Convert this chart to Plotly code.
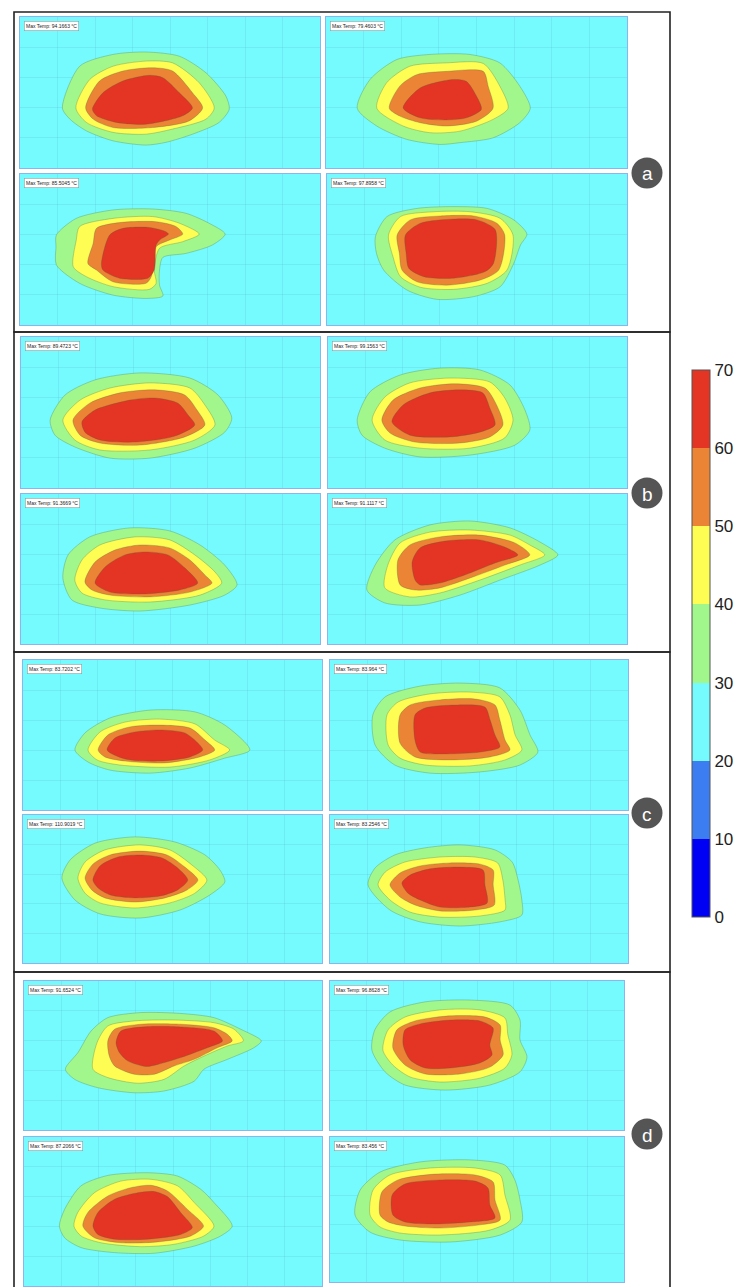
import plotly.graph_objects as go

# ---------------- data ----------------
LEVEL_EDGES = [0, 10, 20, 30, 40, 50, 60, 70]
LEVEL_COLORS = ["#0000f5", "#3c7ef2", "#75fbfd", "#a1f78c", "#fdfd54", "#eb8535", "#e33424"]
BAND_NAMES = ["30–40 °C", "40–50 °C", "50–60 °C", "60–70 °C"]
GROUP_LABELS = ["a", "b", "c", "d"]
MAX_TEMPS = [
    "94.1663", "79.4603", "85.5045", "97.8958",
    "89.4723", "99.1563", "91.3669", "91.1117",
    "83.7202", "83.964", "110.9019", "83.2546",
    "91.6524", "96.8628", "87.2066", "83.456",
]

# isotherm band outlines (grid units: x 0-8, y 0-5), order: 30, 40, 50, 60 °C
A_TL = [
    [(1.13,1.99),(1.59,3.37),(2.48,3.76),(3.36,3.84),(4.25,3.70),(4.96,3.15),(5.49,2.38),(5.58,1.95),(5.31,1.51),(4.60,1.12),(3.89,0.85),(3.36,0.76),(2.48,0.90),(1.77,1.23),(1.33,1.62)],
    [(1.49,1.99),(1.86,2.93),(2.48,3.37),(3.36,3.54),(4.07,3.48),(4.78,2.82),(5.18,1.99),(4.96,1.62),(4.07,1.29),(3.36,1.12),(2.48,1.18),(1.77,1.51)],
    [(1.75,1.99),(2.12,2.88),(2.74,3.21),(3.54,3.32),(4.07,3.21),(4.60,2.49),(4.87,1.99),(4.51,1.56),(3.54,1.34),(2.48,1.34),(1.95,1.62)],
    [(1.93,1.95),(2.21,2.49),(2.74,2.88),(3.45,3.07),(3.81,2.99),(4.25,2.49),(4.60,1.99),(4.34,1.73),(3.36,1.45),(2.57,1.51),(2.04,1.73)],
]
A_TR = [
    [(0.83,1.98),(1.17,2.93),(1.88,3.59),(2.76,3.76),(3.82,3.76),(4.62,3.48),(5.15,2.71),(5.43,1.98),(5.15,1.50),(4.44,1.00),(3.56,0.84),(3.03,0.78),(2.14,0.95),(1.35,1.39)],
    [(1.35,1.98),(1.61,2.82),(2.23,3.37),(3.20,3.48),(4.18,3.46),(4.62,2.71),(4.84,1.98),(4.44,1.61),(3.56,1.22),(2.76,1.17),(2.05,1.39)],
    [(1.68,1.98),(1.96,2.71),(2.41,3.09),(3.20,3.20),(4.18,3.20),(4.31,2.71),(4.44,1.98),(4.00,1.55),(3.20,1.39),(2.50,1.50),(1.96,1.72)],
    [(2.05,1.99),(2.50,2.65),(3.38,2.93),(3.73,2.87),(4.00,2.38),(4.13,1.94),(3.73,1.66),(3.20,1.59),(2.50,1.66)],
]
A_BL = [
    [(0.96,2.59),(0.97,2.98),(1.50,3.53),(2.48,3.81),(3.54,3.84),(4.42,3.70),(5.04,3.37),(5.47,3.01),(5.13,2.65),(4.42,2.37),(3.81,2.24),(3.72,1.82),(3.72,1.32),(3.81,0.96),(3.36,0.88),(2.48,0.99),(1.59,1.38),(0.97,1.99)],
    [(1.42,1.93),(1.50,2.81),(1.59,3.26),(2.48,3.53),(3.54,3.59),(4.25,3.37),(4.78,3.01),(4.34,2.76),(3.72,2.54),(3.58,1.82),(3.63,1.38),(3.45,1.18),(2.48,1.27),(1.77,1.60)],
    [(1.81,2.04),(1.95,2.70),(2.04,3.20),(2.65,3.39),(3.63,3.42),(4.16,3.26),(4.34,3.01),(3.98,2.81),(3.63,2.59),(3.50,1.60),(3.36,1.38),(2.48,1.43),(2.04,1.82)],
    [(2.17,2.04),(2.39,2.98),(2.74,3.20),(3.45,3.23),(3.89,3.09),(3.96,3.01),(3.72,2.81),(3.63,2.65),(3.58,1.82),(3.41,1.55),(2.65,1.55),(2.21,1.82)],
]
A_BR = [
    [(1.29,2.92),(1.60,3.59),(2.40,3.86),(3.38,3.92),(4.27,3.86),(4.98,3.48),(5.33,3.01),(5.16,2.65),(4.98,2.04),(4.62,1.27),(3.91,0.94),(2.93,0.85),(2.13,1.16),(1.51,1.82),(1.32,2.37)],
    [(1.64,2.98),(1.96,3.59),(2.84,3.75),(3.82,3.75),(4.62,3.53),(4.96,2.98),(4.80,1.82),(4.27,1.38),(3.38,1.18),(2.49,1.25),(1.96,1.60),(1.76,2.26)],
    [(1.87,2.98),(2.22,3.48),(3.02,3.61),(3.91,3.61),(4.53,3.37),(4.74,2.98),(4.58,1.82),(4.09,1.49),(3.20,1.32),(2.40,1.43),(2.00,1.82),(1.93,2.37)],
    [(2.09,2.98),(2.49,3.37),(3.38,3.51),(4.00,3.48),(4.49,3.15),(4.44,2.04),(4.22,1.77),(3.38,1.55),(2.58,1.60),(2.18,1.88),(2.11,2.37)],
]
B_TL = [
    [(0.78,2.25),(1.18,3.08),(1.98,3.58),(3.18,3.81),(4.52,3.64),(5.27,3.08),(5.64,2.32),(5.45,1.85),(4.65,1.32),(3.45,0.99),(2.38,0.99),(1.44,1.36),(0.91,1.75)],
    [(1.12,2.25),(1.58,2.91),(2.38,3.31),(3.45,3.48),(4.52,3.31),(4.92,2.75),(5.19,2.09),(4.65,1.59),(3.45,1.26),(2.11,1.26),(1.44,1.59)],
    [(1.39,2.25),(1.84,2.81),(2.65,3.15),(3.58,3.25),(4.38,3.08),(4.71,2.58),(4.92,2.09),(4.38,1.69),(3.18,1.42),(2.11,1.49),(1.58,1.75)],
    [(1.63,2.19),(1.98,2.58),(2.91,2.91),(3.58,2.98),(4.20,2.81),(4.47,2.42),(4.65,2.09),(4.12,1.72),(3.05,1.52),(2.11,1.59),(1.71,1.85)],
]
B_TR = [
    [(0.78,2.25),(1.12,3.18),(1.93,3.74),(2.99,3.97),(4.06,3.91),(4.87,3.41),(5.27,2.58),(5.40,1.92),(5.00,1.42),(3.80,1.09),(2.46,1.03),(1.52,1.32),(0.91,1.75)],
    [(1.18,2.25),(1.52,3.01),(2.19,3.48),(3.26,3.64),(4.33,3.51),(4.73,2.98),(4.95,2.25),(4.73,1.66),(3.80,1.32),(2.46,1.32),(1.52,1.59)],
    [(1.44,2.25),(1.74,2.91),(2.46,3.31),(3.40,3.45),(4.20,3.31),(4.47,2.85),(4.68,2.09),(4.33,1.69),(3.53,1.49),(2.33,1.52),(1.66,1.82)],
    [(1.71,2.19),(2.01,2.75),(2.73,3.15),(3.53,3.25),(4.14,3.15),(4.33,2.65),(4.47,2.09),(4.06,1.85),(3.26,1.69),(2.19,1.75)],
]
B_BL = [
    [(1.12,2.20),(1.26,2.97),(1.84,3.57),(2.91,3.87),(3.98,3.77),(4.79,3.30),(5.45,2.63),(5.78,1.97),(5.45,1.63),(4.52,1.30),(3.18,1.10),(2.11,1.20),(1.36,1.47)],
    [(1.44,2.13),(1.63,2.80),(2.11,3.30),(3.05,3.57),(3.98,3.47),(4.65,2.97),(5.19,2.40),(5.37,2.03),(4.79,1.63),(3.45,1.40),(2.25,1.47),(1.63,1.70)],
    [(1.71,2.07),(1.98,2.73),(2.51,3.13),(3.18,3.30),(3.98,3.20),(4.52,2.80),(4.92,2.30),(5.11,2.03),(4.52,1.73),(3.45,1.57),(2.38,1.63),(1.90,1.80)],
    [(1.98,2.03),(2.25,2.57),(2.78,2.97),(3.32,3.07),(3.93,2.97),(4.39,2.53),(4.73,2.03),(4.25,1.80),(3.32,1.67),(2.38,1.73)],
]
B_BR = [
    [(1.04,1.80),(1.26,2.63),(1.79,3.47),(2.73,3.97),(3.80,4.10),(4.87,3.87),(5.67,3.40),(6.15,2.97),(5.67,2.63),(4.60,2.13),(3.53,1.63),(2.46,1.30),(1.52,1.37)],
    [(1.52,1.87),(1.60,2.63),(1.93,3.37),(2.73,3.73),(3.80,3.80),(4.87,3.63),(5.40,3.30),(5.80,2.97),(5.13,2.63),(4.06,2.13),(2.99,1.70),(2.19,1.57)],
    [(1.93,1.97),(1.87,2.80),(2.19,3.30),(2.99,3.57),(4.06,3.63),(5.00,3.37),(5.40,2.97),(4.73,2.63),(3.80,2.20),(2.99,1.87),(2.33,1.80)],
    [(2.33,2.13),(2.25,2.73),(2.46,3.20),(3.13,3.43),(4.06,3.47),(4.73,3.23),(5.08,2.97),(4.47,2.70),(3.66,2.30),(2.99,2.03),(2.46,1.97)],
]
C_TL = [
    [(1.39,2.00),(1.66,2.57),(2.33,3.07),(3.40,3.33),(4.60,3.27),(5.40,2.83),(6.07,2.00),(5.40,1.73),(4.47,1.40),(3.40,1.23),(2.33,1.33),(1.74,1.60)],
    [(1.74,2.00),(2.06,2.60),(2.73,2.93),(3.66,3.03),(4.60,2.87),(5.13,2.33),(5.53,2.00),(5.00,1.67),(3.93,1.43),(2.59,1.50),(1.98,1.67)],
    [(2.01,2.00),(2.27,2.50),(2.86,2.77),(3.66,2.83),(4.47,2.73),(4.87,2.33),(5.13,2.00),(4.73,1.77),(3.79,1.57),(2.73,1.63),(2.19,1.77)],
    [(2.25,2.00),(2.46,2.40),(2.99,2.60),(3.66,2.67),(4.33,2.57),(4.65,2.27),(4.81,2.00),(4.47,1.77),(3.66,1.63),(2.73,1.70)],
]
C_TR = [
    [(1.21,2.17),(1.15,3.17),(1.48,3.77),(2.42,4.13),(3.49,4.23),(4.56,4.07),(5.10,3.33),(5.37,2.50),(5.58,1.93),(5.10,1.50),(4.03,1.27),(2.68,1.23),(1.74,1.50)],
    [(1.56,2.17),(1.53,3.17),(1.83,3.60),(2.68,3.87),(3.76,3.93),(4.56,3.77),(4.83,3.17),(4.97,2.50),(5.15,2.00),(4.70,1.67),(3.76,1.47),(2.55,1.50),(1.88,1.73)],
    [(1.88,2.23),(1.88,3.17),(2.15,3.50),(2.95,3.67),(3.89,3.70),(4.43,3.50),(4.56,3.00),(4.70,2.33),(4.83,2.00),(4.30,1.77),(3.22,1.67),(2.28,1.77)],
    [(2.28,2.33),(2.28,3.17),(2.55,3.40),(3.36,3.50),(4.16,3.43),(4.30,3.00),(4.43,2.50),(4.56,2.10),(4.03,1.93),(3.09,1.87),(2.42,1.93)],
]
C_BL = [
    [(1.04,2.87),(1.26,3.48),(1.93,4.05),(2.99,4.26),(4.06,4.09),(4.87,3.65),(5.27,3.14),(5.40,2.74),(5.00,2.30),(4.20,1.79),(3.13,1.52),(2.06,1.66),(1.39,2.13)],
    [(1.47,2.87),(1.66,3.41),(2.19,3.82),(3.13,3.99),(3.93,3.82),(4.52,3.31),(4.92,2.80),(4.60,2.36),(3.93,2.03),(2.99,1.86),(2.06,2.03),(1.66,2.36)],
    [(1.66,2.87),(1.87,3.34),(2.33,3.65),(3.13,3.78),(3.85,3.65),(4.33,3.24),(4.68,2.80),(4.39,2.47),(3.80,2.20),(2.99,2.06),(2.19,2.20),(1.84,2.47)],
    [(1.87,2.80),(2.06,3.28),(2.54,3.58),(3.13,3.65),(3.72,3.55),(4.14,3.21),(4.41,2.80),(4.14,2.47),(3.66,2.26),(2.99,2.20),(2.33,2.30),(2.01,2.53)],
]
C_BR = [
    [(1.02,2.64),(1.21,3.21),(1.74,3.65),(2.55,3.89),(3.49,3.99),(4.43,3.82),(4.89,3.41),(5.05,2.80),(5.15,2.13),(5.15,1.62),(4.56,1.39),(3.49,1.25),(2.42,1.39),(1.61,1.79)],
    [(1.29,2.64),(1.48,3.07),(2.01,3.41),(2.95,3.58),(3.89,3.58),(4.50,3.38),(4.64,2.80),(4.70,2.13),(4.70,1.79),(4.03,1.59),(2.95,1.55),(2.15,1.72),(1.61,2.13)],
    [(1.61,2.64),(1.88,3.04),(2.42,3.28),(3.22,3.38),(4.03,3.34),(4.38,3.14),(4.38,2.64),(4.41,1.96),(3.89,1.79),(2.95,1.76),(2.28,1.96),(1.88,2.23)],
    [(1.93,2.70),(2.15,2.97),(2.68,3.18),(3.49,3.24),(4.11,3.14),(4.16,2.64),(4.22,2.03),(3.76,1.89),(2.95,1.89),(2.42,2.13),(2.09,2.36)],
]
D_TL = [
    [(1.11,2.04),(1.45,2.60),(1.80,3.32),(2.25,3.77),(3.14,3.94),(4.21,3.91),(5.10,3.77),(5.82,3.38),(6.37,2.99),(6.17,2.76),(5.46,2.37),(4.83,2.04),(4.57,1.64),(3.76,1.31),(2.96,1.25),(1.98,1.42),(1.36,1.70)],
    [(1.85,2.04),(1.96,2.93),(2.25,3.49),(2.96,3.66),(4.03,3.69),(5.10,3.60),(5.64,3.38),(5.89,2.99),(5.46,2.82),(4.83,2.48),(4.30,2.15),(3.76,1.70),(3.05,1.57),(2.25,1.76)],
    [(2.29,2.48),(2.25,2.99),(2.43,3.38),(3.14,3.55),(4.21,3.55),(5.10,3.43),(5.46,3.21),(5.59,2.99),(5.19,2.76),(4.57,2.37),(4.03,2.15),(3.50,1.87),(2.96,1.87),(2.43,2.15)],
    [(2.56,2.60),(2.47,2.93),(2.60,3.32),(3.32,3.47),(4.21,3.46),(5.10,3.32),(5.33,2.99),(4.92,2.76),(4.21,2.43),(3.59,2.20),(3.27,2.13),(2.78,2.32)],
]
D_TR = [
    [(1.14,2.68),(1.22,3.36),(1.63,3.96),(2.59,4.30),(3.81,4.36),(4.90,4.19),(5.17,3.69),(5.17,3.02),(5.36,2.45),(5.17,1.95),(4.35,1.51),(3.13,1.34),(2.04,1.51),(1.50,1.95)],
    [(1.44,2.68),(1.58,3.36),(2.04,3.79),(2.99,4.03),(4.08,4.03),(4.76,3.76),(4.84,3.19),(4.95,2.52),(4.76,2.08),(4.08,1.74),(2.99,1.61),(2.18,1.78),(1.71,2.18)],
    [(1.71,2.75),(1.82,3.36),(2.31,3.66),(3.27,3.83),(4.22,3.79),(4.63,3.52),(4.63,3.02),(4.71,2.52),(4.35,2.11),(3.54,1.88),(2.59,1.88),(2.04,2.18)],
    [(1.99,2.85),(2.04,3.36),(2.45,3.56),(3.27,3.69),(4.08,3.66),(4.44,3.42),(4.35,2.85),(4.41,2.52),(4.08,2.25),(3.27,2.08),(2.59,2.08),(2.18,2.35)],
]
D_BL = [
    [(0.95,2.01),(1.09,2.57),(1.53,3.36),(2.25,3.71),(3.32,3.80),(4.12,3.69),(4.75,3.24),(5.10,2.80),(5.59,2.01),(5.28,1.68),(4.57,1.34),(3.50,1.10),(2.43,1.12),(1.53,1.29),(1.09,1.62)],
    [(1.34,2.01),(1.44,2.46),(1.89,3.13),(2.60,3.52),(3.41,3.58),(4.12,3.36),(4.57,2.80),(5.10,2.01),(4.83,1.68),(4.03,1.40),(3.14,1.32),(2.07,1.45),(1.53,1.68)],
    [(1.58,2.01),(1.71,2.46),(2.25,3.02),(2.87,3.30),(3.41,3.38),(3.85,3.19),(4.39,2.57),(4.82,2.01),(4.48,1.68),(3.59,1.48),(2.61,1.45),(1.89,1.62)],
    [(1.85,2.01),(1.98,2.46),(2.43,2.91),(3.05,3.13),(3.50,3.17),(3.85,3.00),(4.21,2.46),(4.52,1.96),(4.21,1.73),(3.32,1.57),(2.43,1.57),(1.98,1.73)],
]
D_BR = [
    [(0.68,2.31),(0.82,3.17),(1.36,3.79),(2.45,4.14),(3.81,4.21),(4.76,4.03),(5.03,3.52),(5.17,2.83),(5.22,2.07),(4.63,1.62),(3.27,1.38),(1.90,1.45),(1.09,1.72)],
    [(1.09,2.31),(1.17,3.17),(1.63,3.69),(2.72,3.93),(3.95,3.93),(4.63,3.69),(4.76,3.00),(4.90,2.14),(4.35,1.79),(2.99,1.62),(1.90,1.69),(1.36,1.90)],
    [(1.36,2.31),(1.41,3.10),(1.85,3.52),(2.86,3.72),(3.95,3.69),(4.44,3.45),(4.49,2.83),(4.63,2.14),(4.08,1.97),(2.99,1.86),(2.04,1.93),(1.58,2.07)],
    [(1.71,2.31),(1.69,3.00),(2.04,3.38),(2.99,3.52),(3.95,3.48),(4.30,3.24),(4.35,2.66),(4.49,2.21),(3.81,2.07),(2.86,2.00),(2.04,2.07)],
]

PANEL_DATA = [A_TL, A_TR, A_BL, A_BR, B_TL, B_TR, B_BL, B_BR,
              C_TL, C_TR, C_BL, C_BR, D_TL, D_TR, D_BL, D_BR]

# ---------------- layout (pixels) ----------------
W, H = 735, 1287
PANEL_RECTS = [
    (20, 320, 17, 168), (326, 627, 17, 168), (20, 320, 174, 325), (327, 627, 174, 325),
    (21, 320, 337, 488), (328, 627, 337, 488), (21, 320, 494, 644), (328, 627, 494, 644),
    (23, 322, 660, 810), (330, 628, 660, 810), (23, 322, 815, 963), (330, 628, 815, 963),
    (24, 322, 981, 1130), (330, 624, 981, 1130), (24, 322, 1137, 1286), (330, 624, 1137, 1282),
]
GROUP_BOXES = [(14, 670, 12, 332), (14, 670, 332, 652), (14, 670, 652, 972), (14, 670, 972, 1292)]
BADGE_CENTERS = [(647, 173), (647, 493), (647, 813), (647, 1134)]


def px(x):
    return x / W


def py(y):
    return 1 - y / H


fig = go.Figure()
layout = dict(
    width=W, height=H, margin=dict(l=0, r=0, t=0, b=0),
    paper_bgcolor="white", plot_bgcolor=LEVEL_COLORS[2],
    showlegend=False, font=dict(family="Liberation Sans, Arial, sans-serif"),
)
annotations, shapes = [], []

for i, (rect, polys) in enumerate(zip(PANEL_RECTS, PANEL_DATA)):
    n = "" if i == 0 else str(i + 1)
    x0, x1, y0, y1 = rect
    axis_common = dict(showticklabels=False, zeroline=False, showgrid=True,
                       gridcolor="rgba(70,160,190,0.15)", gridwidth=0.6,
                       showline=True, linecolor="#8ab6f0", linewidth=1.2, mirror=True,
                       ticks="", fixedrange=True)
    layout["xaxis" + n] = dict(domain=[px(x0), px(x1)], range=[0, 8], dtick=1,
                               anchor="y" + n, **axis_common)
    layout["yaxis" + n] = dict(domain=[py(y1), py(y0)], range=[0, 5], dtick=1,
                               anchor="x" + n, **axis_common)
    for k, poly in enumerate(polys):
        xs = [p[0] for p in poly] + [poly[0][0]]
        ys = [p[1] for p in poly] + [poly[0][1]]
        fig.add_trace(go.Scatter(
            x=xs, y=ys, xaxis="x" + n, yaxis="y" + n, mode="lines",
            line=dict(color="rgba(70,100,60,0.4)", width=0.7, shape="spline", smoothing=0.75),
            fill="toself", fillcolor=LEVEL_COLORS[3 + k], name=BAND_NAMES[k],
            hoverinfo="name",
        ))
    annotations.append(dict(
        x=px(x0 + 4), y=py(y0 + 4), xref="paper", yref="paper",
        xanchor="left", yanchor="top", showarrow=False,
        text="Max Temp: " + MAX_TEMPS[i] + " °C",
        font=dict(size=5, color="#222"), bgcolor="white",
        bordercolor="#9a9a9a", borderwidth=0.6, borderpad=1.5,
    ))

# colour bar from a hidden marker trace
cs = []
for j, c in enumerate(LEVEL_COLORS):
    cs.append([j / 7, c])
    cs.append([(j + 1) / 7, c])
fig.add_trace(go.Scatter(
    x=[-5, -5], y=[-5, -5], xaxis="x", yaxis="y", mode="markers",
    marker=dict(color=[LEVEL_EDGES[0], LEVEL_EDGES[-1]], cmin=0, cmax=70,
                colorscale=cs, showscale=True, size=1,
                colorbar=dict(
                    x=px(692), xanchor="left", xpad=0, y=py(643.5), yanchor="middle",
                    thickness=18, thicknessmode="pixels", len=547, lenmode="pixels",
                    tickvals=LEVEL_EDGES, ticktext=[str(v) for v in LEVEL_EDGES],
                    ticks="", tickfont=dict(size=17, color="#222"),
                    outlinecolor="#555", outlinewidth=1, ypad=0,
                )),
    hoverinfo="skip",
))

for (gx0, gx1, gy0, gy1) in GROUP_BOXES:
    shapes.append(dict(type="rect", xref="paper", yref="paper",
                       x0=px(gx0), x1=px(gx1), y0=py(gy1), y1=py(gy0),
                       line=dict(color="#222", width=1.6), fillcolor="rgba(0,0,0,0)",
                       layer="below"))

for lab, (cx, cy) in zip(GROUP_LABELS, BADGE_CENTERS):
    r = 15.5
    shapes.append(dict(type="circle", xref="paper", yref="paper",
                       x0=px(cx - r), x1=px(cx + r), y0=py(cy + r), y1=py(cy - r),
                       line=dict(width=0), fillcolor="#555555"))
    annotations.append(dict(x=px(cx), y=py(cy + 1), xref="paper", yref="paper",
                            text=lab, showarrow=False, xanchor="center", yanchor="middle",
                            font=dict(size=19, color="white")))

layout["annotations"] = annotations
layout["shapes"] = shapes
fig.update_layout(**layout)
fig.write_html("out.html")
